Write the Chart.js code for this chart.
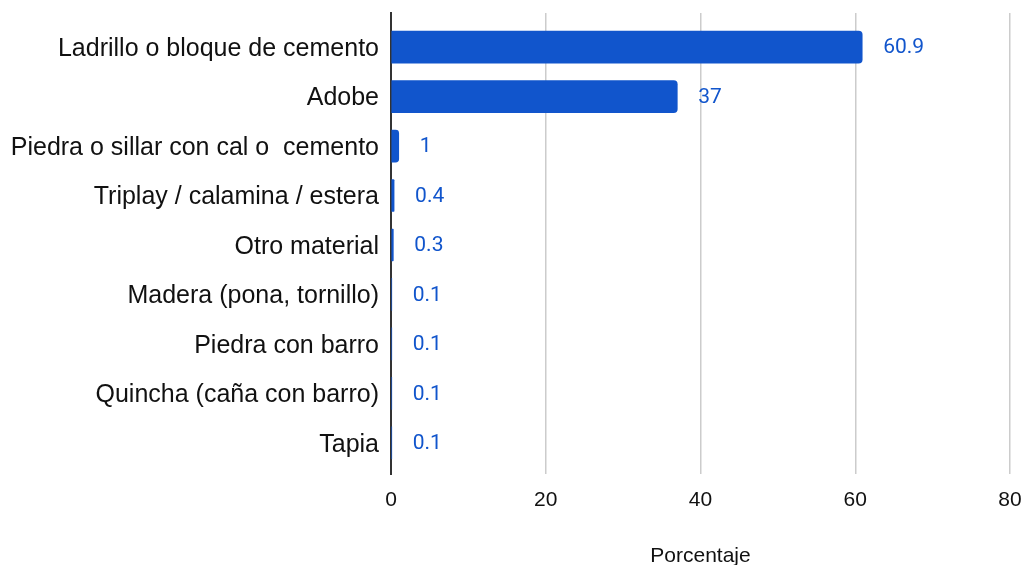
<!DOCTYPE html>
<html>
<head>
<meta charset="utf-8">
<script src="https://cdn.jsdelivr.net/npm/chart.js@4/dist/chart.umd.min.js"></script>
<style>
  html, body { margin: 0; padding: 0; background: #ffffff; }
  #wrap { width: 1025px; height: 565px; }
</style>
</head>
<body>
<div id="wrap"><canvas id="c" width="1025" height="565"></canvas></div>
<script>
const categories = [
  "Ladrillo o bloque de cemento",
  "Adobe",
  "Piedra o sillar con cal o  cemento",
  "Triplay / calamina / estera",
  "Otro material",
  "Madera (pona, tornillo)",
  "Piedra con barro",
  "Quincha (caña con barro)",
  "Tapia"
];
const porcentaje = [60.9, 37, 1, 0.4, 0.3, 0.1, 0.1, 0.1, 0.1];
const xTicks = [0, 20, 40, 60, 80];
const axisTitle = "Porcentaje";

const valueLabels = {
  id: 'valueLabels',
  afterDatasetsDraw(chart) {
    const ctx = chart.ctx;
    const meta = chart.getDatasetMeta(0);
    ctx.save();
    ctx.font = '21px Roboto';
    ctx.fillStyle = '#1155cc';
    ctx.textAlign = 'left';
    ctx.textBaseline = 'middle';
    meta.data.forEach((bar, i) => {
      ctx.fillText(String(porcentaje[i]), bar.x + 21, bar.y + 1);
    });
    ctx.restore();
  }
};

new Chart(document.getElementById('c'), {
  type: 'bar',
  data: {
    labels: categories,
    datasets: [{
      label: axisTitle,
      data: porcentaje,
      backgroundColor: '#1155cc',
      borderWidth: 0,
      borderRadius: 4,
      borderSkipped: 'start',
      barThickness: 32
    }]
  },
  options: {
    indexAxis: 'y',
    responsive: false,
    animation: false,
    devicePixelRatio: 1,
    layout: { padding: { left: 0, right: 15, top: 13, bottom: 0 } },
    plugins: {
      legend: { display: false },
      tooltip: { enabled: false }
    },
    scales: {
      x: {
        type: 'linear',
        position: 'bottom',
        min: xTicks[0],
        max: xTicks[xTicks.length - 1],
        afterBuildTicks: (s) => { s.ticks = xTicks.map(v => ({ value: v })); },
        afterFit: (s) => { s.height = 91; s.paddingLeft = 0; s.paddingRight = 0; },
        grid: {
          color: (c) => c.index === 0 ? 'rgba(0,0,0,0)' : '#cccccc',
          lineWidth: 1.5,
          drawTicks: false
        },
        border: { display: false },
        ticks: {
          font: { family: 'Liberation Sans', size: 21 },
          color: '#111111',
          padding: 14
        },
        title: {
          display: true,
          text: axisTitle,
          font: { family: 'Liberation Sans', size: 21, lineHeight: 1 },
          color: '#111111',
          padding: { top: 0, bottom: -2 }
        }
      },
      y: {
        type: 'category',
        afterBuildTicks: (s) => { s._startValue = -0.69; s._valueRange = 9.32; },
        afterFit: (s) => { s.width = 391; s.paddingTop = 0; s.paddingBottom = 0; },
        grid: { display: false, drawTicks: false },
        border: { display: true, color: '#333333', width: 2 },
        ticks: {
          font: { family: 'Liberation Sans', size: 25 },
          color: '#111111',
          padding: 12,
          labelOffset: 2
        }
      }
    }
  },
  plugins: [valueLabels]
});
</script>
</body>
</html>
